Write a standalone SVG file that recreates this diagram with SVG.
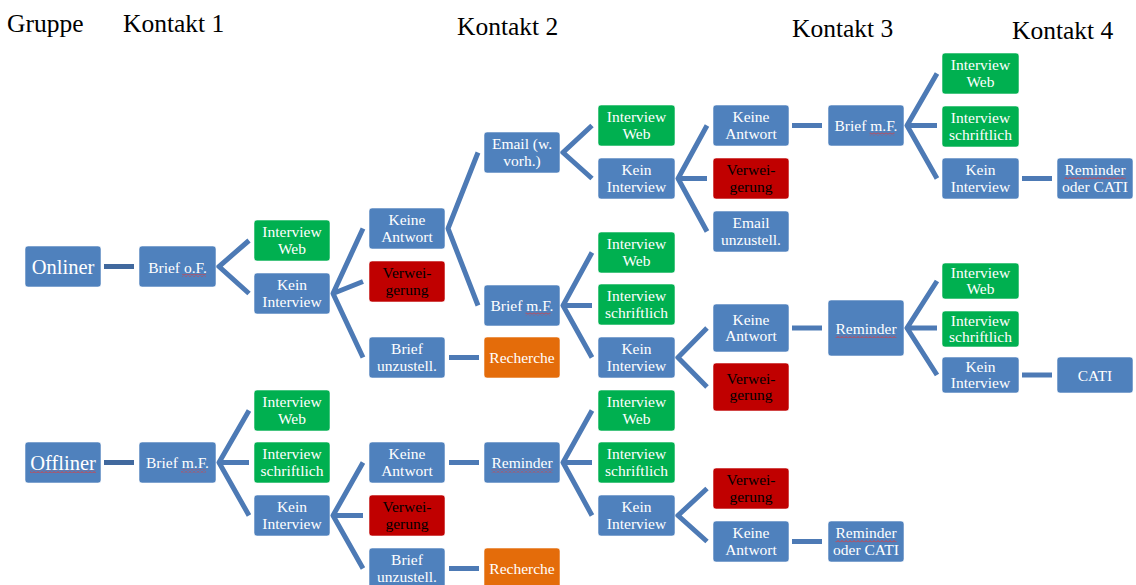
<svg xmlns="http://www.w3.org/2000/svg" width="1136" height="585" viewBox="0 0 1136 585">
<style>
.hd{font-family:"Liberation Serif","Times New Roman",serif;font-size:25.5px;fill:#000}
.b{stroke:#ffffff;stroke-opacity:0.55;stroke-width:1}
.blue{fill:#4F81BD}
.green{fill:#00B050}
.red{fill:#C00000}
.orange{fill:#E46C0A}
.t{font-family:"Liberation Serif","Times New Roman",serif;font-size:15.5px;fill:#fff;text-anchor:middle}
.tk{fill:#000}
.big{font-size:20.5px}
.c{fill:none;stroke:#4D7AB5;stroke-width:5;stroke-linecap:butt;stroke-linejoin:miter}
.cd{stroke:#41699E}
</style>
<defs>
<pattern id="wavy" patternUnits="userSpaceOnUse" width="4" height="3">
<path d="M0,2.5 L2,0.5 L4,2.5" fill="none" stroke="#E03C3C" stroke-width="1"/>
</pattern>
</defs>
<rect width="1136" height="585" fill="#ffffff"/>
<g id="headers">
<text class="hd" x="7" y="32">Gruppe</text>
<text class="hd" x="123" y="32">Kontakt 1</text>
<text class="hd" x="457" y="35">Kontakt 2</text>
<text class="hd" x="792" y="37">Kontakt 3</text>
<text class="hd" x="1012" y="39">Kontakt 4</text>
</g>
<g id="connectors">
<path class="c cd" d="M104,266.5 H134"/>
<path class="c cd" d="M104,462.5 H134"/>
<path class="c" d="M449,357.5 H479"/>
<path class="c" d="M449,462.5 H479"/>
<path class="c" d="M449,568.5 H479"/>
<path class="c" d="M792,125.5 H822"/>
<path class="c" d="M792,328 H822"/>
<path class="c" d="M792,541.5 H822"/>
<path class="c" d="M1022,178.5 H1052"/>
<path class="c" d="M1022,375 H1052"/>
<path class="c" d="M249,240.5 L219,266.5 L249,293.5"/>
<path class="c" d="M249,410.5 L219,462.5 L249,515.5 M219,462.5 H249"/>
<path class="c" d="M363,228.5 L333,293.5 L363,357.5 M333,293.5 L363,281.5"/>
<path class="c" d="M363,462.5 L333,515.5 L363,568.5 M333,515.5 H363"/>
<path class="c" d="M478,152.5 L448,228.5 L478,305.5"/>
<path class="c" d="M592,125.5 L563,152.5 L592,178.5"/>
<path class="c" d="M592,252.5 L563,305.5 L592,357.5 M563,305.5 H592"/>
<path class="c" d="M592,410.5 L563,462.5 L592,515.5 M563,462.5 H592"/>
<path class="c" d="M707,125.5 L678,178.5 L707,231.5 M678,178.5 H707"/>
<path class="c" d="M707,328 L678,357.5 L707,387"/>
<path class="c" d="M707,488.5 L678,515.5 L707,541.5"/>
<path class="c" d="M937,73.5 L907,125.5 L937,178.5 M907,125.5 H937"/>
<path class="c" d="M937,281 L907,328 L937,375 M907,328 H937"/>
</g>
<g id="n-onliner"><rect class="b blue" x="25" y="246" width="76" height="41" rx="3"/><text class="t big" x="63" y="273.5">Onliner</text></g>
<g id="n-offliner"><rect class="b blue" x="25" y="442" width="76" height="41" rx="3"/><text class="t big" x="63" y="469.5">Offliner</text><rect x="30" y="470" width="66" height="3" fill="url(#wavy)"/></g>
<g id="n-brief-of"><rect class="b blue" x="139" y="246" width="77" height="41" rx="3"/><text class="t" x="177.5" y="272.5">Brief o.F.</text><rect x="182" y="274" width="24" height="3" fill="url(#wavy)"/></g>
<g id="n-brief-mf-off"><rect class="b blue" x="139" y="442" width="77" height="41" rx="3"/><text class="t" x="177.5" y="468">Brief m.F.</text><rect x="181" y="469.5" width="25" height="3" fill="url(#wavy)"/></g>
<g id="n-on-iweb1"><rect class="b green" x="254" y="220" width="76" height="41" rx="3"/><text class="t" x="292" y="237">Interview</text><text class="t" x="292" y="253.5">Web</text></g>
<g id="n-on-kein1"><rect class="b blue" x="254" y="273" width="76" height="41" rx="3"/><text class="t" x="292" y="290">Kein</text><text class="t" x="292" y="306.5">Interview</text></g>
<g id="n-off-iweb1"><rect class="b green" x="254" y="390" width="76" height="41" rx="3"/><text class="t" x="292" y="407">Interview</text><text class="t" x="292" y="423.5">Web</text></g>
<g id="n-off-ischr1"><rect class="b green" x="254" y="442" width="76" height="41" rx="3"/><text class="t" x="292" y="459">Interview</text><text class="t" x="292" y="475.5">schriftlich</text></g>
<g id="n-off-kein1"><rect class="b blue" x="254" y="495" width="76" height="41" rx="3"/><text class="t" x="292" y="512">Kein</text><text class="t" x="292" y="528.5">Interview</text></g>
<g id="n-on-keine1"><rect class="b blue" x="369" y="208" width="76" height="41" rx="3"/><text class="t" x="407" y="225">Keine</text><text class="t" x="407" y="241.5">Antwort</text></g>
<g id="n-on-verw1"><rect class="b red" x="369" y="261" width="76" height="41" rx="3"/><text class="t tk" x="407" y="278">Verwei-</text><text class="t tk" x="407" y="294.5">gerung</text></g>
<g id="n-on-unz1"><rect class="b blue" x="369" y="337" width="76" height="41" rx="3"/><text class="t" x="407" y="354">Brief</text><text class="t" x="407" y="370.5">unzustell.</text></g>
<g id="n-on-rech"><rect class="b orange" x="484" y="337" width="76" height="41" rx="3"/><text class="t" x="522" y="363">Recherche</text></g>
<g id="n-off-keine1"><rect class="b blue" x="369" y="442" width="76" height="41" rx="3"/><text class="t" x="407" y="459">Keine</text><text class="t" x="407" y="475.5">Antwort</text></g>
<g id="n-off-verw1"><rect class="b red" x="369" y="495" width="76" height="41" rx="3"/><text class="t tk" x="407" y="512">Verwei-</text><text class="t tk" x="407" y="528.5">gerung</text></g>
<g id="n-off-unz1"><rect class="b blue" x="369" y="548" width="76" height="41" rx="3"/><text class="t" x="407" y="565">Brief</text><text class="t" x="407" y="581.5">unzustell.</text></g>
<g id="n-off-rech"><rect class="b orange" x="484" y="548" width="76" height="41" rx="3"/><text class="t" x="522" y="574">Recherche</text></g>
<g id="n-on-email"><rect class="b blue" x="484" y="132" width="76" height="41" rx="3"/><text class="t" x="522" y="149">Email (w.</text><text class="t" x="522" y="165.5">vorh.)</text></g>
<g id="n-on-briefmf"><rect class="b blue" x="484" y="285" width="76" height="41" rx="3"/><text class="t" x="522" y="311">Brief m.F.</text><rect x="525.5" y="312.5" width="25" height="3" fill="url(#wavy)"/></g>
<g id="n-off-rem"><rect class="b blue" x="484" y="442" width="76" height="41" rx="3"/><text class="t" x="522" y="468">Reminder</text><rect x="491.5" y="469.5" width="61" height="3" fill="url(#wavy)"/></g>
<g id="n-e-iweb"><rect class="b green" x="598" y="105" width="77" height="41" rx="3"/><text class="t" x="636.5" y="122">Interview</text><text class="t" x="636.5" y="138.5">Web</text></g>
<g id="n-e-kein"><rect class="b blue" x="598" y="158" width="77" height="41" rx="3"/><text class="t" x="636.5" y="175">Kein</text><text class="t" x="636.5" y="191.5">Interview</text></g>
<g id="n-b-iweb"><rect class="b green" x="598" y="232" width="77" height="41" rx="3"/><text class="t" x="636.5" y="249">Interview</text><text class="t" x="636.5" y="265.5">Web</text></g>
<g id="n-b-ischr"><rect class="b green" x="598" y="284" width="77" height="41" rx="3"/><text class="t" x="636.5" y="301">Interview</text><text class="t" x="636.5" y="317.5">schriftlich</text></g>
<g id="n-b-kein"><rect class="b blue" x="598" y="337" width="77" height="41" rx="3"/><text class="t" x="636.5" y="354">Kein</text><text class="t" x="636.5" y="370.5">Interview</text></g>
<g id="n-r-iweb"><rect class="b green" x="598" y="390" width="77" height="41" rx="3"/><text class="t" x="636.5" y="407">Interview</text><text class="t" x="636.5" y="423.5">Web</text></g>
<g id="n-r-ischr"><rect class="b green" x="598" y="442" width="77" height="41" rx="3"/><text class="t" x="636.5" y="459">Interview</text><text class="t" x="636.5" y="475.5">schriftlich</text></g>
<g id="n-r-kein"><rect class="b blue" x="598" y="495" width="77" height="41" rx="3"/><text class="t" x="636.5" y="512">Kein</text><text class="t" x="636.5" y="528.5">Interview</text></g>
<g id="n-e-keine"><rect class="b blue" x="713" y="105" width="76" height="41" rx="3"/><text class="t" x="751" y="122">Keine</text><text class="t" x="751" y="138.5">Antwort</text></g>
<g id="n-e-verw"><rect class="b red" x="713" y="158" width="76" height="41" rx="3"/><text class="t tk" x="751" y="175">Verwei-</text><text class="t tk" x="751" y="191.5">gerung</text></g>
<g id="n-e-unz"><rect class="b blue" x="713" y="211" width="76" height="41" rx="3"/><text class="t" x="751" y="228">Email</text><text class="t" x="751" y="244.5">unzustell.</text></g>
<g id="n-b-keine"><rect class="b blue" x="713" y="304" width="76" height="48" rx="3"/><text class="t" x="751" y="324.5">Keine</text><text class="t" x="751" y="341">Antwort</text></g>
<g id="n-b-verw"><rect class="b red" x="713" y="363" width="76" height="48" rx="3"/><text class="t tk" x="751" y="383.5">Verwei-</text><text class="t tk" x="751" y="400">gerung</text></g>
<g id="n-r-verw"><rect class="b red" x="713" y="468" width="76" height="41" rx="3"/><text class="t tk" x="751" y="485">Verwei-</text><text class="t tk" x="751" y="501.5">gerung</text></g>
<g id="n-r-keine"><rect class="b blue" x="713" y="521" width="76" height="41" rx="3"/><text class="t" x="751" y="538">Keine</text><text class="t" x="751" y="554.5">Antwort</text></g>
<g id="n-k3-briefmf"><rect class="b blue" x="828" y="105" width="76" height="41" rx="3"/><text class="t" x="866" y="131">Brief m.F.</text><rect x="869.5" y="132.5" width="25" height="3" fill="url(#wavy)"/></g>
<g id="n-k3-rem"><rect class="b blue" x="828" y="300" width="76" height="56" rx="3"/><text class="t" x="866" y="333.5">Reminder</text><rect x="835.5" y="335" width="61" height="3" fill="url(#wavy)"/></g>
<g id="n-k3-remcati"><rect class="b blue" x="828" y="521" width="76" height="41" rx="3"/><text class="t" x="866" y="538">Reminder</text><text class="t" x="866" y="554.5">oder CATI</text><rect x="835.5" y="539.5" width="61" height="3" fill="url(#wavy)"/></g>
<g id="n-k4-iweb1"><rect class="b green" x="942" y="53" width="77" height="41" rx="3"/><text class="t" x="980.5" y="70">Interview</text><text class="t" x="980.5" y="86.5">Web</text></g>
<g id="n-k4-ischr1"><rect class="b green" x="942" y="106" width="77" height="41" rx="3"/><text class="t" x="980.5" y="123">Interview</text><text class="t" x="980.5" y="139.5">schriftlich</text></g>
<g id="n-k4-kein1"><rect class="b blue" x="942" y="158" width="77" height="41" rx="3"/><text class="t" x="980.5" y="175">Kein</text><text class="t" x="980.5" y="191.5">Interview</text></g>
<g id="n-k4-iweb2"><rect class="b green" x="942" y="263" width="77" height="36" rx="3"/><text class="t" x="980.5" y="277.5">Interview</text><text class="t" x="980.5" y="294">Web</text></g>
<g id="n-k4-ischr2"><rect class="b green" x="942" y="311" width="77" height="36" rx="3"/><text class="t" x="980.5" y="325.5">Interview</text><text class="t" x="980.5" y="342">schriftlich</text></g>
<g id="n-k4-kein2"><rect class="b blue" x="942" y="357" width="77" height="36" rx="3"/><text class="t" x="980.5" y="371.5">Kein</text><text class="t" x="980.5" y="388">Interview</text></g>
<g id="n-k4-remcati"><rect class="b blue" x="1057" y="158" width="76" height="41" rx="3"/><text class="t" x="1095" y="175">Reminder</text><text class="t" x="1095" y="191.5">oder CATI</text><rect x="1064.5" y="176.5" width="61" height="3" fill="url(#wavy)"/></g>
<g id="n-k4-cati"><rect class="b blue" x="1057" y="357" width="76" height="36" rx="3"/><text class="t" x="1095" y="380.5">CATI</text></g>
</svg>
